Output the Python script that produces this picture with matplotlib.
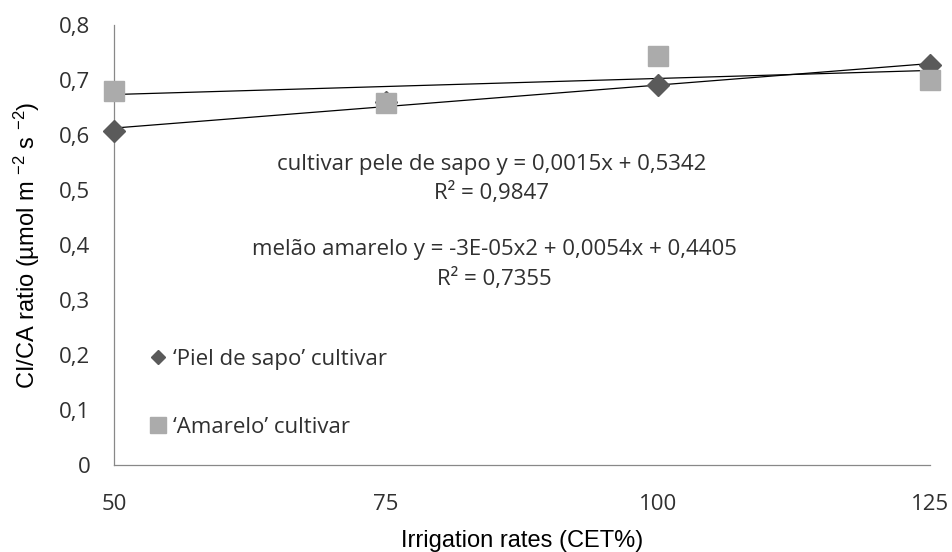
import matplotlib
matplotlib.use("Agg")
import matplotlib.pyplot as plt
from matplotlib.lines import Line2D
import numpy as np

# irrigation rates (CET%) and CI/CA ratio per cultivar
rates = [50, 75, 100, 125]
piel_de_sapo = [0.607, 0.660, 0.691, 0.727]
amarelo = [0.680, 0.658, 0.744, 0.700]
yticks = [0, 0.1, 0.2, 0.3, 0.4, 0.5, 0.6, 0.7, 0.8]
ytick_labels = ["0", "0,1", "0,2", "0,3", "0,4", "0,5", "0,6", "0,7", "0,8"]

eq_piel = "cultivar pele de sapo y = 0,0015x + 0,5342\nR² = 0,9847"
eq_amarelo = "melão amarelo y = -3E-05x2 + 0,0054x + 0,4405\nR² = 0,7355"

plt.rcParams["mathtext.default"] = "regular"

fig = plt.figure(figsize=(9.52, 5.52), dpi=100)
ax = fig.add_axes([114 / 952, 1 - 465 / 552, 816 / 952, 440 / 552])

dark = "#5a5a5a"
light = "#ababab"
txt = "#303030"
fs = 16

# trend lines (linear fits)
xs = np.array([rates[0], rates[-1]])
for vals in (piel_de_sapo, amarelo):
    k, b = np.polyfit(rates, vals, 1)
    ax.plot(xs, k * xs + b, color="black", lw=0.9, zorder=2)

ax.plot(rates, piel_de_sapo, linestyle="none", marker="D", markersize=11,
        color=dark, zorder=3, clip_on=False)
ax.plot(rates, amarelo, linestyle="none", marker="s", markersize=15,
        color=light, zorder=4, clip_on=False)

ax.set_xlim(50, 125)
ax.set_ylim(0, 0.8)
ax.set_xticks(rates)
ax.set_xticklabels([str(r) for r in rates], fontfamily="Open Sans", fontsize=fs,
                   color=txt)
ax.set_yticks(yticks)
ax.set_yticklabels(ytick_labels, fontfamily="Open Sans", fontsize=fs, color=txt)
ax.tick_params(axis="both", length=0)
ax.tick_params(axis="y", pad=17)
ax.tick_params(axis="x", pad=21)

for side in ("top", "right"):
    ax.spines[side].set_visible(False)
for side in ("left", "bottom"):
    ax.spines[side].set_color("#888888")
    ax.spines[side].set_linewidth(0.9)

ax.set_xlabel("Irrigation rates (CET%)", fontfamily="Liberation Sans",
              fontsize=17, labelpad=11)
ax.set_ylabel(r"CI/CA ratio (µmol m $^{-2}$ s $^{-2}$)",
              fontfamily="Liberation Sans", fontsize=17, labelpad=12)

ax.text(84.7, 0.520, eq_piel, ha="center", va="center", fontfamily="Open Sans",
        fontsize=fs, color=txt, linespacing=1.45)
ax.text(85.0, 0.364, eq_amarelo, ha="center", va="center", fontfamily="Open Sans",
        fontsize=fs, color=txt, linespacing=1.45)

handles = [
    Line2D([], [], linestyle="none", marker="D", markersize=7.5, color=dark),
    Line2D([], [], linestyle="none", marker="s", markersize=12, color=light),
]
labels = ["‘Piel de sapo’ cultivar", "‘Amarelo’ cultivar"]
ax.legend(handles, labels, loc="center left", bbox_to_anchor=(0.040, 0.163),
          frameon=False, borderpad=0, borderaxespad=0, handlelength=1,
          handletextpad=0.2, labelspacing=2.1,
          prop={"family": "Open Sans", "size": fs}, labelcolor=txt)

fig.savefig("out.png", dpi=100)
